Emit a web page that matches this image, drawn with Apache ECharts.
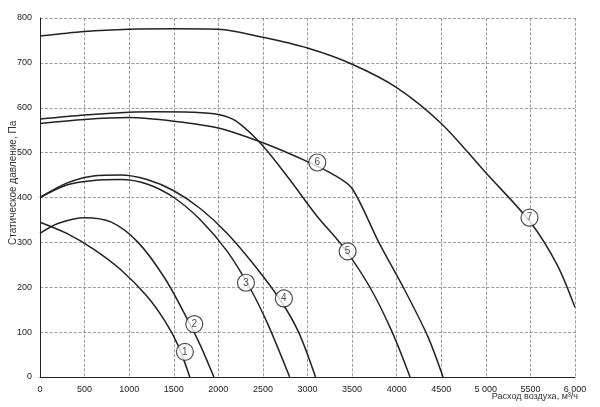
<!DOCTYPE html>
<html><head><meta charset="utf-8">
<script src="https://cdn.jsdelivr.net/npm/echarts@6/dist/echarts.min.js"></script>
<style>html,body{margin:0;padding:0;background:#fff}#c{width:600px;height:407px}</style>
</head><body><div id="c"></div>
<script>
const xTicks=[0,500,1000,1500,2000,2500,3000,3500,4000,4500,5000,5500,6000];
const curve1=[[0,345],[300,320],[600,285],[900,240],[1200,180],[1400,125],[1550,70],[1680,0]];
const curve2=[[0,320],[200,342],[500,355],[800,345],[1100,300],[1400,220],[1650,130],[1800,70],[1950,0]];
const curve3=[[0,400],[300,428],[600,438],[900,440],[1200,430],[1500,400],[1800,350],[2100,280],[2350,200],[2550,120],[2800,0]];
const curve4=[[0,400],[300,432],[600,448],[900,450],[1200,440],[1500,415],[1800,375],[2100,320],[2400,250],[2700,170],[2900,100],[3090,0]];
const curve5=[[0,575],[500,584],[1000,590],[1300,591],[1700,590],[2000,585],[2200,570],[2500,515],[2800,440],[3100,360],[3400,290],[3700,200],[3950,100],[4150,0]];
const curve6=[[0,565],[500,574],[1000,578],[1500,570],[2000,555],[2500,522],[3000,480],[3300,450],[3500,420],[3800,300],[4100,190],[4350,90],[4520,0]];
const curve7=[[0,760],[500,770],[1000,775],[1500,776],[2000,775],[2500,757],[3000,733],[3500,697],[4000,645],[4500,565],[5000,455],[5500,345],[5800,250],[6000,155]];
const labels=[[1625,56,'1'],[1730,118,'2'],[2310,210,'3'],[2735,175,'4'],[3450,280,'5'],[3110,478,'6'],[5490,355,'7']];
const curves=[curve1,curve2,curve3,curve4,curve5,curve6,curve7];
const series=curves.map(d=>({type:'line',data:d,smooth:0.3,symbol:'none',lineStyle:{color:'#222',width:1.5},z:2}));
series.push({type:'scatter',data:labels.map(l=>[l[0],l[1],l[2]]),symbol:'circle',symbolSize:17,
 itemStyle:{color:'#fff',borderColor:'#222',borderWidth:1.2},z:5,
 label:{show:true,position:'inside',formatter:p=>p.data[2],color:'#222',fontSize:10,fontFamily:'Liberation Sans'}});
const chart=echarts.init(document.getElementById('c'));
chart.setOption({animation:false,
 grid:{left:40,right:25,top:18,bottom:30,containLabel:false,outerBoundsMode:'none'},
 graphic:[
  {type:'text',x:8,y:245,rotation:Math.PI/2,style:{text:'Статическое давление, Па',fontSize:10,fill:'#333',fontFamily:'Liberation Sans',align:'left',verticalAlign:'top'}},
  {type:'text',right:22,top:392,style:{text:'Расход воздуха, м³/ч',fontSize:9,fill:'#333',fontFamily:'Liberation Sans'}}
 ],
 xAxis:{type:'value',min:0,max:6000,interval:500,
  axisLine:{lineStyle:{color:'#222'}},axisTick:{show:false},
  axisLabel:{fontSize:9,color:'#222',fontFamily:'Liberation Sans',formatter:v=>(v===5000?'5 000':v===6000?'6 000':String(v))},
  splitLine:{show:true,lineStyle:{color:'#888',type:'dashed',width:0.8}}},
 yAxis:{type:'value',min:0,max:800,interval:100,
  axisLine:{show:true,lineStyle:{color:'#222'}},axisTick:{show:false},
  axisLabel:{fontSize:9,color:'#222',fontFamily:'Liberation Sans'},
  splitLine:{show:true,lineStyle:{color:'#888',type:'dashed',width:0.8}}},
 series});
</script></body></html>
